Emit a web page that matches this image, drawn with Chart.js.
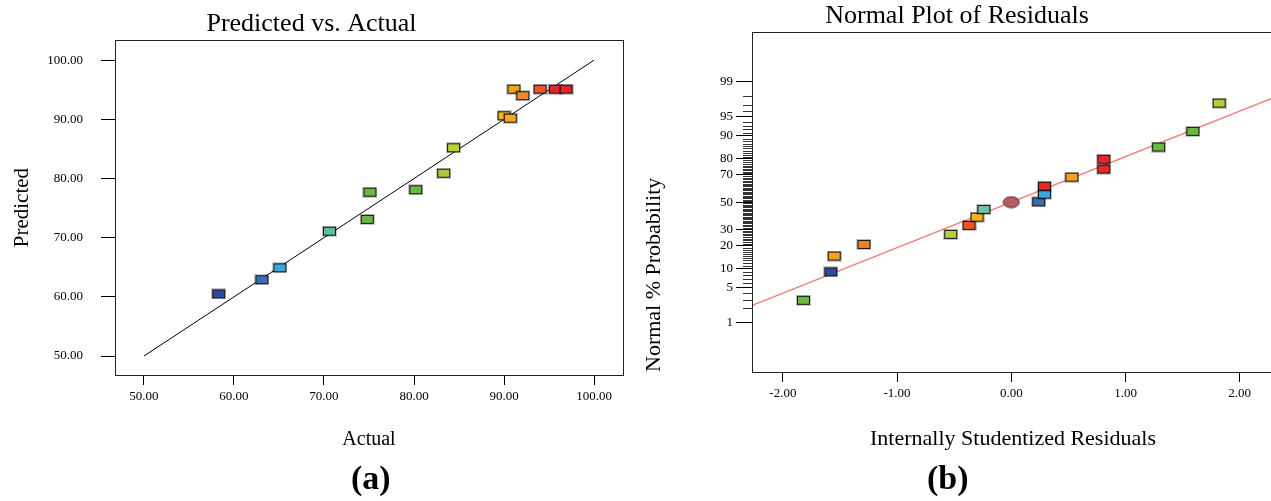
<!DOCTYPE html>
<html>
<head>
<meta charset="utf-8">
<script src="https://cdn.jsdelivr.net/npm/chart.js"></script>
<style>
  html, body { margin: 0; padding: 0; background: #fff; width: 1271px; height: 501px; overflow: hidden; }
  .panel { position: absolute; top: 0; }
  .cap { position: absolute; top: 459px; font-family: "Liberation Serif", serif; font-weight: bold; font-size: 34px; color: #000; }
</style>
</head>
<body>
<div class="panel" style="left:0px"><canvas id="chartA" width="640" height="460"></canvas></div>
<div class="panel" style="left:640px"><canvas id="chartB" width="644" height="460"></canvas></div>
<div class="cap" style="left:351px">(a)</div>
<div class="cap" style="left:927px">(b)</div>
<script>
// (a) Predicted vs. Actual
const actualA    = [58.3, 63.1, 65.1, 70.6, 74.8, 75.1, 80.2, 83.3, 84.4, 90.0, 90.7, 91.1, 92.1, 94.0, 95.7, 96.9];
const predictedA = [60.5, 62.9, 64.9, 71.1, 73.1, 77.7, 78.1, 80.9, 85.2, 90.6, 90.2, 95.1, 94.0, 95.1, 95.1, 95.1];
const colorsA = ["#2e4a9e", "#3a6db5", "#3aa5de", "#5dc09a", "#6ab83f", "#6ab83f", "#6ab83f", "#a9c93a",
                 "#bdd22e", "#f7b21a", "#f4a81e", "#f7a21f", "#f08a2a", "#ee5424", "#e8262a", "#e52228"];
const fitA = [50, 100];
const ticksA = [50, 60, 70, 80, 90, 100];

// (b) Normal plot of residuals
const residB = [-1.82, -1.58, -1.55, -1.29, -0.53, -0.37, -0.30, -0.24, 0.24, 0.29, 0.29, 0.53, 0.81, 0.81, 1.29, 1.59, 1.82];
const probB  = [2.9, 8.9, 14.9, 20.7, 26.7, 32.7, 38.6, 44.4, 50.2, 56.1, 62.1, 68.5, 73.8, 79.6, 85.6, 91.4, 97.2];
const colorsB = ["#6ab83f", "#2e4a9e", "#f7a21f", "#f07f22", "#b5d031", "#ee5424", "#f9b417", "#6cc4a0",
                 "#3a6db5", "#3aa5de", "#e8262a", "#f7a21f", "#e8262a", "#e8262a", "#6ab83f", "#6ab83f", "#b5d031"];
const centerB = { x: 0, p: 50 };
const lineX = [-2.3, 2.3];
const lineP = [2.16, 97.84];
const ticksBx = [-2, -1, 0, 1, 2];
const ticksBy = [1, 5, 10, 20, 30, 50, 70, 80, 90, 95, 99];

Chart.defaults.font.family = "'Liberation Serif', serif";
Chart.defaults.color = "#000";

function boxMark(color) {
  const c = document.createElement("canvas");
  c.width = 15; c.height = 11;
  const g = c.getContext("2d");
  g.fillStyle = "rgba(0,0,0,0.22)";
  g.fillRect(0, 0, 15, 11);
  g.fillStyle = "#111";
  g.fillRect(1, 1, 13, 9);
  g.fillStyle = color;
  g.fillRect(2, 2, 11, 7);
  return c;
}

function ellipseMark(color) {
  const c = document.createElement("canvas");
  c.width = 18; c.height = 13;
  const g = c.getContext("2d");
  g.beginPath();
  g.ellipse(9, 6.5, 8, 5.5, 0, 0, Math.PI * 2);
  g.fillStyle = color;
  g.fill();
  g.strokeStyle = "#333";
  g.lineWidth = 1;
  g.stroke();
  return c;
}

// inverse standard normal cdf (Acklam)
function probit(p) {
  const a = [-3.969683028665376e+01, 2.209460984245205e+02, -2.759285104469687e+02, 1.383577518672690e+02, -3.066479806614716e+01, 2.506628277459239e+00];
  const b = [-5.447609879822406e+01, 1.615858368580409e+02, -1.556989798598866e+02, 6.680131188771972e+01, -1.328068155288572e+01];
  const c = [-7.784894002430293e-03, -3.223964580411365e-01, -2.400758277161838e+00, -2.549732539343734e+00, 4.374664141464968e+00, 2.938163982698783e+00];
  const d = [7.784695709041462e-03, 3.224671290700398e-01, 2.445134137142996e+00, 3.754408661907416e+00];
  const lo = 0.02425;
  if (p < lo) {
    const q = Math.sqrt(-2 * Math.log(p));
    return (((((c[0]*q+c[1])*q+c[2])*q+c[3])*q+c[4])*q+c[5]) / ((((d[0]*q+d[1])*q+d[2])*q+d[3])*q+1);
  }
  if (p > 1 - lo) {
    const q = Math.sqrt(-2 * Math.log(1 - p));
    return -(((((c[0]*q+c[1])*q+c[2])*q+c[3])*q+c[4])*q+c[5]) / ((((d[0]*q+d[1])*q+d[2])*q+d[3])*q+1);
  }
  const q = p - 0.5, r = q * q;
  return (((((a[0]*r+a[1])*r+a[2])*r+a[3])*r+a[4])*r+a[5])*q / (((((b[0]*r+b[1])*r+b[2])*r+b[3])*r+b[4])*r+1);
}

// normal probability axis, values given in percent
class ProbitScale extends (Chart.Scale || Chart.LinearScale) {
  parse(raw) { return raw == null ? null : +raw; }
  determineDataLimits() { this.min = this.options.min; this.max = this.options.max; }
  buildTicks() {
    const t = [];
    for (let v = 1; v <= 99; v++) t.push({ value: v });
    return t;
  }
  getLabelForValue(v) { return String(v); }
  configure() {
    super.configure();
    this._z0 = probit(this.min / 100);
    this._zr = probit(this.max / 100) - this._z0;
  }
  getPixelForValue(v) { return this.getPixelForDecimal((probit(v / 100) - this._z0) / this._zr); }
  getValueForPixel(px) { return null; }
}
ProbitScale.id = "probit";
ProbitScale.defaults = {};
Chart.register(ProbitScale);

const frame = {
  id: "frame",
  afterDatasetsDraw(chart) {
    const a = chart.chartArea, g = chart.ctx;
    g.save();
    g.strokeStyle = "#222";
    g.lineWidth = 1;
    g.strokeRect(Math.round(a.left) + 0.5, Math.round(a.top) + 0.5, Math.round(a.right - a.left), Math.round(a.bottom - a.top));
    g.restore();
  }
};

const minorTicks = {
  id: "minorTicks",
  afterDraw(chart) {
    const s = chart.scales.y, g = chart.ctx;
    g.save();
    g.strokeStyle = "#333";
    g.lineWidth = 1;
    s.ticks.forEach(t => {
      if (ticksBy.includes(t.value)) return;
      const y = Math.round(s.getPixelForValue(t.value)) + 0.5;
      g.beginPath();
      g.moveTo(s.right - 9, y);
      g.lineTo(s.right, y);
      g.stroke();
    });
    g.restore();
  }
};

const tickFont = { size: 13 };

new Chart(document.getElementById("chartA"), {
  type: "scatter",
  data: {
    datasets: [
      {
        data: actualA.map((x, i) => ({ x: x, y: predictedA[i] })),
        pointStyle: colorsA.map(boxMark),
        pointRadius: 7
      },
      {
        data: fitA.map(v => ({ x: v, y: v })),
        showLine: true,
        borderColor: "#000",
        borderWidth: 1,
        pointRadius: 0
      }
    ]
  },
  options: {
    responsive: false,
    animation: false,
    layout: { padding: { left: 0, right: 17, top: 0, bottom: 8 } },
    plugins: {
      legend: { display: false },
      tooltip: { enabled: false },
      title: {
        display: true,
        text: "Predicted vs. Actual",
        font: { size: 26, weight: "normal" },
        color: "#000",
        padding: { top: 9, bottom: 0 }
      }
    },
    scales: {
      x: {
        min: 46.78, max: 103.22,
        afterBuildTicks: s => { s.ticks = ticksA.map(v => ({ value: v })); },
        afterFit: s => { s.height = 77; },
        grid: { drawOnChartArea: false, tickLength: 10, tickColor: "#000" },
        border: { color: "#000" },
        ticks: { font: tickFont, padding: 4, callback: v => v.toFixed(2) },
        title: { display: true, text: "Actual", font: { size: 20 }, padding: { top: 4, bottom: 0 } }
      },
      y: {
        min: 46.79, max: 103.38,
        afterBuildTicks: s => { s.ticks = ticksA.map(v => ({ value: v })); },
        afterFit: s => { s.width = 115; },
        grid: { drawOnChartArea: false, tickLength: 14, tickColor: "#000" },
        border: { color: "#000" },
        ticks: { font: tickFont, padding: 18, callback: v => v.toFixed(2) },
        title: { display: true, text: "Predicted", font: { size: 21 }, padding: { top: 10, bottom: 0 } }
      }
    }
  },
  plugins: [frame]
});

new Chart(document.getElementById("chartB"), {
  type: "scatter",
  data: {
    datasets: [
      {
        data: residB.map((x, i) => ({ x: x, y: probB[i] })),
        pointStyle: colorsB.map(boxMark),
        pointRadius: 7
      },
      {
        data: [{ x: centerB.x, y: centerB.p }],
        pointStyle: ellipseMark("#b85c5e"),
        pointRadius: 8
      },
      {
        data: lineX.map((x, i) => ({ x: x, y: lineP[i] })),
        showLine: true,
        borderColor: "#f08080",
        borderWidth: 1.5,
        pointRadius: 0
      }
    ]
  },
  options: {
    responsive: false,
    animation: false,
    layout: { padding: { left: 0, right: 10, top: 0, bottom: 8 } },
    plugins: {
      legend: { display: false },
      tooltip: { enabled: false },
      title: {
        display: true,
        text: "Normal Plot of Residuals",
        font: { size: 26, weight: "normal" },
        color: "#000",
        padding: { top: 1, bottom: 0 }
      }
    },
    scales: {
      x: {
        min: -2.27, max: 2.3,
        afterBuildTicks: s => { s.ticks = ticksBx.map(v => ({ value: v })); },
        afterFit: s => { s.height = 80; },
        grid: { drawOnChartArea: false, tickLength: 10, tickColor: "#000" },
        border: { color: "#000" },
        ticks: { font: tickFont, padding: 4, callback: v => v.toFixed(2) },
        title: { display: true, text: "Internally Studentized Residuals", font: { size: 22 }, padding: { top: 4, bottom: 0 } }
      },
      y: {
        type: "probit",
        min: 0.052, max: 99.948,
        afterFit: s => { s.width = 112; },
        grid: {
          drawOnChartArea: false,
          tickLength: 16,
          tickColor: ctx => ticksBy.includes(ctx.tick && ctx.tick.value) ? "#000" : "rgba(0,0,0,0)"
        },
        border: { color: "#000" },
        ticks: {
          font: tickFont, padding: 3, autoSkip: false,
          callback: v => ticksBy.includes(v) ? String(v) : ""
        },
        title: { display: true, text: "Normal % Probability", align: "start", font: { size: 22 }, padding: { top: 1, bottom: 0 } }
      }
    }
  },
  plugins: [frame, minorTicks]
});
</script>
</body>
</html>
